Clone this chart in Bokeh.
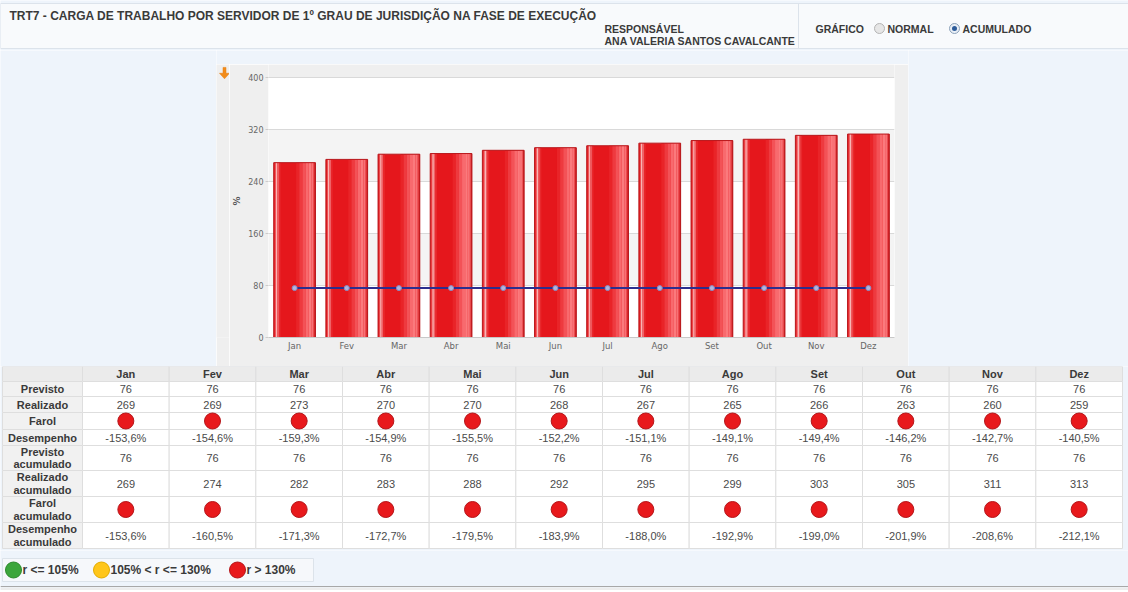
from bokeh.plotting import figure
from bokeh.layouts import column, row
from bokeh.models import FactorRange, Range1d, ColumnDataSource, FixedTicker, BoxAnnotation
from bokeh.transform import dodge
from bokeh.embed import file_html
from bokeh.resources import INLINE
from bokeh.core.properties import value

# ---------------- data ----------------
months = ["Jan", "Fev", "Mar", "Abr", "Mai", "Jun", "Jul", "Ago", "Set", "Out", "Nov", "Dez"]
previsto = [76, 76, 76, 76, 76, 76, 76, 76, 76, 76, 76, 76]
realizado = [269, 269, 273, 270, 270, 268, 267, 265, 266, 263, 260, 259]
desempenho = [-153.6, -154.6, -159.3, -154.9, -155.5, -152.2, -151.1, -149.1, -149.4, -146.2, -142.7, -140.5]
previsto_acum = [76, 76, 76, 76, 76, 76, 76, 76, 76, 76, 76, 76]
realizado_acum = [269, 274, 282, 283, 288, 292, 295, 299, 303, 305, 311, 313]
desempenho_acum = [-153.6, -160.5, -171.3, -172.7, -179.5, -183.9, -188.0, -192.9, -199.0, -201.9, -208.6, -212.1]
y_ticks = [0, 80, 160, 240, 320, 400]
row_labels = ["Previsto", "Realizado", "Farol", "Desempenho", "Previsto\nacumulado",
              "Realizado\nacumulado", "Farol\nacumulado", "Desempenho\nacumulado"]
legend_labels = ["r <= 105%", "105% < r <= 130%", "r > 130%"]
title_text = "TRT7 - CARGA DE TRABALHO POR SERVIDOR DE 1º GRAU DE JURISDIÇÃO NA FASE DE EXECUÇÃO"
resp_label = "RESPONSÁVEL"
resp_name = "ANA VALERIA SANTOS CAVALCANTE"
radio_title = "GRÁFICO"
radio_options = ["NORMAL", "ACUMULADO"]

# ---------------- styles ----------------
BLUE = "#EEF4FB"
PANEL = "#EFEFEF"
TXT = "#3A3A3A"
VAL = "#4A4A4A"
LS = value("Liberation Sans")
RED = "#E8191C"
GREEN = "#3CA63C"
YELLOW = "#FFC61A"
W = 1128


def farol_color(real, prev):
    r = real / prev * 100.0
    if r <= 105:
        return GREEN
    if r <= 130:
        return YELLOW
    return RED


def fmt_pct(v):
    return ("%.1f" % v).replace(".", ",") + "%"


def blank(w, h, xr, yr, bg=BLUE, **kw):
    f = figure(width=w, height=h, x_range=xr, y_range=yr, output_backend="svg",
               toolbar_location=None, min_border=0, x_axis_location=None, y_axis_location=None, **kw)
    f.grid.visible = False
    f.outline_line_color = None
    f.background_fill_color = bg
    f.border_fill_color = bg
    return f


# ---------------- header ----------------
HH = 50
hdr = blank(W, HH, Range1d(0, W), Range1d(HH, 0))
hdr.quad(left=[0], right=[W], top=[3], bottom=[48], fill_color="#F8FAFC", line_color="#DCE3EB")
hdr.segment(x0=[798], y0=[3], x1=[798], y1=[48], line_color="#DCE3EB")
hdr.text(x=[9], y=[15], text=[title_text], text_font=LS, text_font_size="12px",
         text_font_style="bold", text_color=TXT, text_baseline="middle")
hdr.text(x=[604, 604], y=[28, 40], text=[resp_label, resp_name], text_font=LS, text_font_size="10.5px",
         text_font_style="bold", text_color=TXT, text_baseline="middle")
hdr.text(x=[815], y=[28], text=[radio_title], text_font=LS, text_font_size="10.5px",
         text_font_style="bold", text_color=TXT, text_baseline="middle")
hdr.scatter(x=[879], y=[28], size=10, fill_color="#E6E6E6", line_color="#B4B4B4")
hdr.scatter(x=[954], y=[28], size=10, fill_color="#E9EFF6", line_color="#8CA2BA")
hdr.scatter(x=[954], y=[28], size=5, fill_color="#2D5C9A", line_color=None)
hdr.text(x=[887, 962], y=[28, 28], text=radio_options, text_font=LS, text_font_size="10.5px",
         text_font_style="bold", text_color=TXT, text_baseline="middle")

# ---------------- chart ----------------
src = ColumnDataSource(dict(month=months, real=realizado_acum, prev=previsto_acum))
yr = Range1d(0, 420)
p = figure(width=679, height=302, x_range=FactorRange(factors=months), y_range=yr,
           output_backend="svg", toolbar_location=None,
           min_border_left=39, min_border_right=14, min_border_top=0, min_border_bottom=29)
p.background_fill_color = "white"
p.border_fill_color = PANEL
p.outline_line_color = None
p.xgrid.visible = False
p.ygrid.ticker = FixedTicker(ticks=y_ticks)
p.ygrid.grid_line_color = "#D9D9D9"
p.ygrid.band_fill_color = "#F4F4F4"
p.ygrid.band_fill_alpha = 1.0
p.yaxis.ticker = FixedTicker(ticks=y_ticks)
p.yaxis.axis_line_color = None
p.yaxis.major_tick_line_color = "#CCCCCC"
p.yaxis.major_tick_out = 3
p.yaxis.major_tick_in = 0
p.yaxis.minor_tick_line_color = None
p.yaxis.major_label_standoff = 2
p.yaxis.major_label_text_font = "DejaVu Sans"
p.yaxis.major_label_text_font_size = "8px"
p.yaxis.major_label_text_color = "#666666"
p.yaxis.axis_label = "%"
p.yaxis.axis_label_text_font = "DejaVu Sans"
p.yaxis.axis_label_text_font_size = "9px"
p.yaxis.axis_label_text_font_style = "bold"
p.yaxis.axis_label_text_color = "#555555"
p.yaxis.axis_label_standoff = 3
p.xaxis.axis_line_color = "#C8C8C8"
p.xaxis.major_tick_line_color = None
p.xaxis.major_tick_out = 0
p.xaxis.major_tick_in = 0
p.xaxis.minor_tick_line_color = None
p.xaxis.major_label_standoff = 3
p.xaxis.major_label_text_font = "DejaVu Sans"
p.xaxis.major_label_text_font_size = "8.5px"
p.xaxis.major_label_text_color = "#666666"
# panel-coloured strip above the 400 line (the panel's top margin)
p.add_layout(BoxAnnotation(bottom=400.8, fill_color=PANEL, fill_alpha=1.0, line_color=None))

p.vbar(x="month", top="real", width=0.8, fill_color="#E5171C", line_color=None, source=src)
stripes = [(-0.37, 0.02, "#EE4C50"), (-0.345, 0.03, "#F9B4B4"), (-0.315, 0.03, "#F06266"),
           (-0.285, 0.03, "#E8282C"),
           (0.06, 0.06, "#E92428"), (0.12, 0.06, "#EE3A3F"), (0.18, 0.06, "#F35257"),
           (0.24, 0.06, "#F86A6E"), (0.295, 0.05, "#FB7A7D"), (0.34, 0.04, "#F77276"),
           (0.37, 0.02, "#EC5559"), (0.39, 0.02, "#CC2428")]
for off, w, c in stripes:
    p.vbar(x=dodge("month", off, range=p.x_range), top="real", width=w, fill_color=c,
           line_color=None, source=src)
p.vbar(x="month", top="real", width=0.8, fill_color=None, line_color="#B8181C", line_width=1, source=src)
p.line(x="month", y="prev", line_color="#2B2F8F", line_width=2, source=src)
p.scatter(x="month", y="prev", size=5, fill_color="#B4B4DC", line_color="#8A8AC0", source=src)

# left strip of the chart panel, holding the orange export-arrow icon
strip = blank(13, 302, Range1d(0, 13), yr, bg=PANEL, min_border_bottom=29)
strip.patch(x=[6.5, 9.5, 9.5, 13, 8, 3, 6.5], y=[415.5, 415.5, 406.5, 406.5, 398, 406.5, 406.5],
            fill_color="#F28C1B", line_color="#E57D0E", line_width=0.5)

# ---------------- table ----------------
TH = 184
row_edges = [0, 15, 30, 46, 63, 79, 104, 130, 156, 182]
TX0 = 2
LABW = 80
CW = (1122 - TX0 - LABW) / 12.0
t = blank(W, TH, Range1d(0, W), Range1d(TH, 0))
ncols = len(months)
col_left = [TX0 + LABW + CW * i for i in range(ncols)]
xs = [c + CW / 2.0 for c in col_left]
cl, cr, ct, cb, cf = [], [], [], [], []
for r in range(len(row_edges) - 1):
    for i in range(-1, ncols):
        cl.append(col_left[i] if i >= 0 else TX0)
        cr.append(col_left[i] + CW if i >= 0 else TX0 + LABW)
        ct.append(row_edges[r])
        cb.append(row_edges[r + 1])
        if r == 0:
            cf.append("#EBEBEB")
        elif i < 0:
            cf.append("#F1F1F1")
        else:
            cf.append("#FFFFFF")
t.quad(left=cl, right=cr, top=ct, bottom=cb, fill_color=cf, line_color="#DEDEDE")
centers = [(row_edges[k] + row_edges[k + 1]) / 2.0 for k in range(len(row_edges) - 1)]
t.text(x=xs, y=[centers[0]] * ncols, text=months, text_font=LS, text_font_size="11px",
       text_font_style="bold", text_color=TXT, text_align="center", text_baseline="middle")
t.text(x=[TX0 + LABW / 2.0] * len(row_labels), y=centers[1:], text=row_labels, text_font=LS,
       text_font_size="11px", text_font_style="bold", text_color=TXT, text_align="center",
       text_baseline="middle", text_line_height=1.05)
text_rows = [(1, [str(v) for v in previsto]), (2, [str(v) for v in realizado]),
             (4, [fmt_pct(v) for v in desempenho]), (5, [str(v) for v in previsto_acum]),
             (6, [str(v) for v in realizado_acum]), (8, [fmt_pct(v) for v in desempenho_acum])]
for k, vals in text_rows:
    t.text(x=xs, y=[centers[k]] * ncols, text=vals, text_font=LS, text_font_size="11px",
           text_color=VAL, text_align="center", text_baseline="middle")
for k, reals, prevs in [(3, realizado, previsto), (7, realizado_acum, previsto_acum)]:
    cols = [farol_color(a, b) for a, b in zip(reals, prevs)]
    t.scatter(x=xs, y=[centers[k]] * ncols, size=16, fill_color=cols, line_color="#B5161A", line_width=1)

# ---------------- legend ----------------
LH = 40
leg = blank(W, LH, Range1d(0, W), Range1d(LH, 0))
leg.quad(left=[2], right=[313], top=[8], bottom=[31], fill_color="#F6F8FB", line_color="#DCE3EA")
leg.segment(x0=[0], y0=[36], x1=[W], y1=[36], line_color="#A8A8A8")
leg.quad(left=[0], right=[W], top=[37], bottom=[40], fill_color="#EDEDED", line_color=None)
leg_x = [13, 101, 237]
leg_cols = [GREEN, YELLOW, RED]
leg_lines = ["#2E8B2E", "#E3AC00", "#B5161A"]
leg.scatter(x=leg_x, y=[19.5] * 3, size=16, fill_color=leg_cols, line_color=leg_lines)
leg.text(x=[v + 9 for v in leg_x], y=[19.5] * 3, text=legend_labels, text_font=LS, text_font_size="12px",
         text_font_style="bold", text_color=TXT, text_baseline="middle")

# ---------------- layout ----------------
chart_row = row(blank(216, 316, Range1d(0, 1), Range1d(0, 1)),
                column(blank(692, 14, Range1d(0, 1), Range1d(0, 1)), row(strip, p)),
                blank(220, 316, Range1d(0, 1), Range1d(0, 1)))
page = column(hdr, chart_row, t, leg)

open("out.html", "w").write(file_html(page, INLINE))
